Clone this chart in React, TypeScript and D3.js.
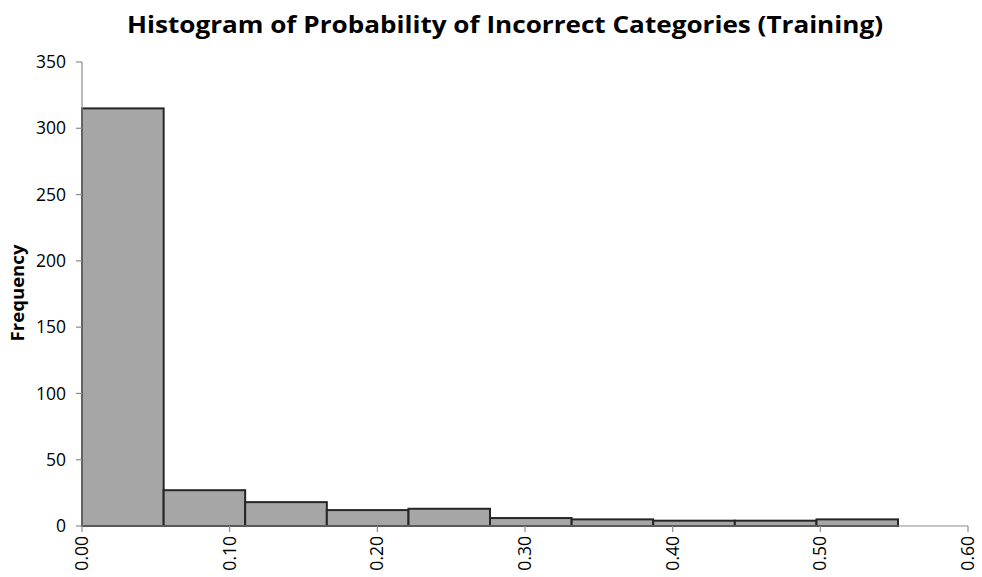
import React from "react";
import * as d3 from "d3";

// bin edges (probability) and counts
const binEdges = [0, 0.0553, 0.1105, 0.1658, 0.2211, 0.2763, 0.3316, 0.3868, 0.4421, 0.4974, 0.5526];
const counts = [315, 27, 18, 12, 13, 6, 5, 4, 4, 5];
const yTicks = [0, 50, 100, 150, 200, 250, 300, 350];
const xTicks = [0, 0.1, 0.2, 0.3, 0.4, 0.5, 0.6];

const title = "Histogram of Probability of Incorrect Categories (Training)";
const yLabel = "Frequency";

const width = 982;
const height = 577;
const margin = { top: 62, right: 14, bottom: 51, left: 82 };
const font = "'Open Sans', 'DejaVu Sans', sans-serif";

function App() {
    const x = d3.scaleLinear()
        .domain([0, 0.6])
        .range([margin.left, width - margin.right]);
    const y = d3.scaleLinear()
        .domain([0, 350])
        .range([height - margin.bottom, margin.top]);

    const bins = counts.map((c, i) => ({ x0: binEdges[i], x1: binEdges[i + 1], c }));
    const y0 = y(0);

    return (
        <svg width={width} height={height}
            style={{ position: "absolute", left: 0, top: 0, background: "#fff" }}
            fontFamily={font}>
            <text x={505} y={33} textAnchor="middle" fontSize={24} fontWeight="bold" fill="#000"
                textLength={756} lengthAdjust="spacingAndGlyphs">
                {title}
            </text>

            {/* bars */}
            {bins.map((b, i) => (
                <rect key={i}
                    x={x(b.x0)} y={y(b.c)}
                    width={x(b.x1) - x(b.x0)} height={y0 - y(b.c)}
                    fill="#a6a6a6" stroke="#262626" strokeWidth={2} />
            ))}

            {/* y axis */}
            <line x1={x(0)} x2={x(0)} y1={y(350)} y2={y0} stroke="#8c8c8c" strokeWidth={1.2} />
            {yTicks.map(t => (
                <g key={t}>
                    <line x1={x(0) - 6} x2={x(0)} y1={y(t)} y2={y(t)} stroke="#8c8c8c" strokeWidth={1.2} />
                    <text x={x(0) - 16} y={y(t)} dy="0.35em" textAnchor="end" fontSize={17.5} fill="#000">
                        {t}
                    </text>
                </g>
            ))}

            {/* x axis */}
            <line x1={x(0)} x2={x(0.6)} y1={y0} y2={y0} stroke="#8c8c8c" strokeWidth={1.2} />
            {xTicks.map(t => (
                <g key={t}>
                    <line x1={x(t)} x2={x(t)} y1={y0} y2={y0 + 6} stroke="#8c8c8c" strokeWidth={1.2} />
                    <text transform={`translate(${x(t)},${y0 + 10}) rotate(-90)`}
                        dy="0.35em" textAnchor="end" fontSize={17.5} fill="#000">
                        {d3.format(".2f")(t)}
                    </text>
                </g>
            ))}

            <text transform={`translate(18,293) rotate(-90)`}
                dy="0.35em" textAnchor="middle" fontSize={18} fontWeight="bold" fill="#000"
                textLength={97} lengthAdjust="spacingAndGlyphs">
                {yLabel}
            </text>
        </svg>
    );
}

export default App;
